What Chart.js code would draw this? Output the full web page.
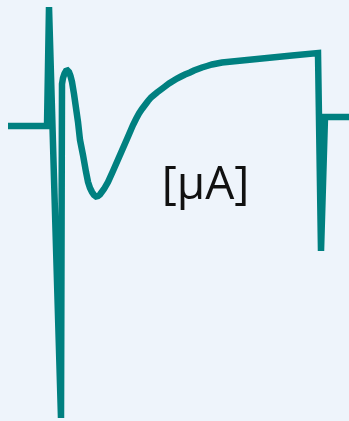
<!DOCTYPE html>
<html>
<head>
<meta charset="utf-8">
<script src="https://cdn.jsdelivr.net/npm/chart.js@4"></script>
<style>
  html, body { margin: 0; padding: 0; background: #eef4fb; }
  #wrap { width: 349px; height: 421px; }
</style>
</head>
<body>
<div id="wrap"><canvas id="trace"></canvas></div>
<script>
// time samples and current readings (arbitrary units, baseline = 0)
const times = [8, 47, 49, 61, 62, 63, 64.5, 66, 67.5, 69, 70.5, 72, 74, 76, 78, 80, 83, 86, 88,
  90, 92, 94, 96, 98, 100, 104, 108, 113, 120, 127, 133, 136, 139, 142, 145, 148, 151, 154,
  157, 161, 165, 169, 173, 177, 181, 185, 190, 194, 198, 202, 207, 212, 217, 222, 227, 247,
  267, 292, 318, 321, 325, 349];
const current = [0, 0, 119, -292, 42, 48, 52.5, 55, 55.5, 54, 50, 44, 32, 18, 4, -14, -29, -46,
  -56, -62, -66, -69, -70.5, -70, -68.5, -63, -56, -45, -29, -13, 1, 7, 12.5, 17, 21, 25,
  28.5, 31, 33.5, 36.5, 39.5, 42.5, 45, 47.5, 49.5, 51.5, 53.5, 55.5, 57, 58.5, 60, 61.5,
  62.5, 63.5, 64, 66, 68, 70.5, 73, -125, 9, 9];
const unitLabel = '[μA]';

const points = times.map((t, i) => ({ x: t, y: current[i] }));

const unitText = {
  id: 'unitText',
  afterDraw(chart) {
    const { ctx } = chart;
    ctx.save();
    ctx.fillStyle = '#111';
    ctx.font = '46px "Open Sans", sans-serif';
    ctx.textAlign = 'center';
    ctx.textBaseline = 'middle';
    ctx.fillText(unitLabel, 205.5, 185.5);
    ctx.restore();
  }
};

new Chart(document.getElementById('trace'), {
  type: 'line',
  data: {
    datasets: [{
      data: points,
      borderColor: '#008080',
      borderWidth: 6.5,
      pointRadius: 0,
      tension: 0,
      fill: false
    }]
  },
  options: {
    responsive: true,
    maintainAspectRatio: false,
    animation: false,
    layout: { padding: 0 },
    plugins: { legend: { display: false }, tooltip: { enabled: false } },
    scales: {
      x: { type: 'linear', min: 0, max: 349, display: false },
      y: { min: -295, max: 126, display: false }
    }
  },
  plugins: [unitText]
});
</script>
</body>
</html>
